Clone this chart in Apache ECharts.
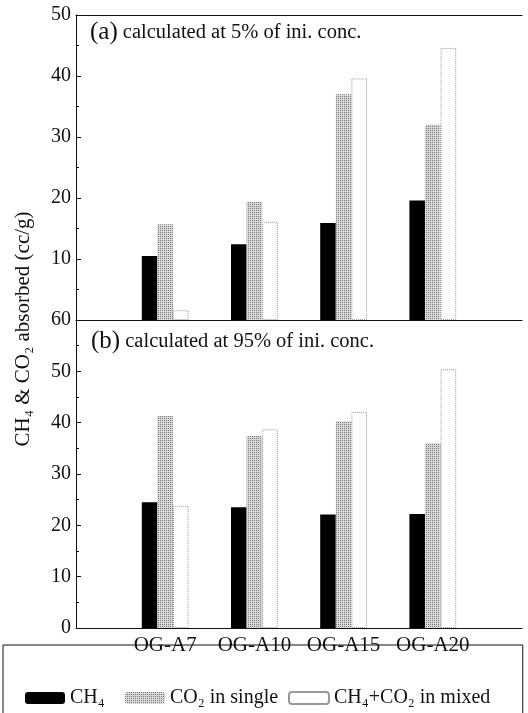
<!DOCTYPE html>
<html>
<head>
<meta charset="utf-8">
<script src="https://cdn.jsdelivr.net/npm/echarts@6/dist/echarts.min.js"></script>
<style>
  html, body { margin: 0; padding: 0; background: #fff; }
  #chart { width: 528px; height: 713px; }
</style>
</head>
<body>
<div id="chart"></div>
<script>
// 样品
const categories = ['OG-A7', 'OG-A10', 'OG-A15', 'OG-A20']
// (a) 5% of ini. conc.
const ch4A = [10.5, 12.4, 15.9, 19.6]
const co2SingleA = [15.7, 19.4, 37.0, 32.0]
const mixedA = [1.6, 16.1, 39.6, 44.6]
// (b) 95% of ini. conc.
const ch4B = [24.5, 23.5, 22.1, 22.2]
const co2SingleB = [41.3, 37.4, 40.3, 36.0]
const mixedB = [23.8, 38.7, 42.1, 50.4]
// y轴刻度 [min, max, interval]
const topTicks = [0, 50, 10]
const bottomTicks = [0, 60, 10]

const names = ['CH₄', 'CO₂ in single', 'CH₄+CO₂ in mixed']
const FONT = 'Liberation Serif'
const INK = '#111'

// 两端空出一格，方便和原图对齐
const axisCats = [''].concat(categories, [''])
const pad = arr => [null].concat(arr, [null])

const barStyles = [
    { color: '#000' },
    {
        color: '#d8d8d8',
        decal: {
            symbol: 'rect',
            symbolSize: 1,
            color: 'rgba(60,60,60,0.6)',
            dashArrayX: [1, 1],
            dashArrayY: [1, 1],
            rotation: 0
        }
    },
    { color: '#fff', borderColor: '#999', borderWidth: 1, borderType: 'dotted' }
]

const makeSeries = (values, idx, grid) => ({
    name: names[idx],
    type: 'bar',
    xAxisIndex: grid === 0 ? 0 : 2,
    yAxisIndex: grid,
    data: pad(values),
    barWidth: 15.6,
    barGap: '0%',
    itemStyle: barStyles[idx],
    emphasis: { disabled: true },
    animation: false
})

const yAxisBase = (gridIndex, ticks, formatter) => ({
    type: 'value',
    gridIndex,
    min: ticks[0],
    max: ticks[1],
    interval: ticks[2],
    axisLine: { show: true, lineStyle: { color: INK, width: 1 } },
    axisTick: { show: true, inside: true, length: 5, lineStyle: { color: INK } },
    minorTick: { show: true, splitNumber: 2, length: 3, lineStyle: { color: INK } },
    splitLine: { show: false },
    axisLabel: {
        fontFamily: FONT, fontSize: 20, color: INK, margin: 5,
        formatter
    }
})

const xAxisBase = (gridIndex, position, showLabel) => ({
    type: 'category',
    gridIndex,
    position,
    data: axisCats,
    boundaryGap: false,
    axisLine: { show: true, onZero: false, lineStyle: { color: INK, width: 1 } },
    axisTick: { show: false },
    axisLabel: {
        show: showLabel, fontFamily: FONT, fontSize: 21, color: INK, margin: 7,
        interval: 0
    },
    splitLine: { show: false }
})

const titleStyle = {
    fontFamily: FONT, fontSize: 20.5, fontWeight: 'normal', color: INK,
    rich: { p: { fontFamily: FONT, fontSize: 25, color: INK } }
}

// 图例：三个独立的图例，第一个带边框并撑满整行
const legendLefts = [3, 125, 288]
const makeLegend = (i) => ({
    left: legendLefts[i],
    top: i === 0 ? 645 : 688,
    padding: i === 0 ? [43, 418, 40, 22] : 0,
    borderColor: INK,
    borderWidth: i === 0 ? 1 : 0,
    itemWidth: 40,
    itemHeight: 12,
    selectedMode: false,
    data: [names[i]],
    textStyle: { fontFamily: FONT, fontSize: 20, color: INK }
})

const option = {
    backgroundColor: '#fff',
    animation: false,
    title: [
        { text: '{p|(a)} calculated at 5% of ini. conc.', left: 90, top: 20, padding: 0, textStyle: titleStyle },
        { text: '{p|(b)} calculated at 95% of ini. conc.', left: 91, top: 329, padding: 0, textStyle: titleStyle }
    ],
    grid: [
        { left: 76, right: 6, top: 15, height: 305 },
        { left: 76, right: 6, top: 320, height: 308 }
    ],
    xAxis: [
        xAxisBase(0, 'bottom', false),
        xAxisBase(0, 'top', false),
        xAxisBase(1, 'bottom', true)
    ],
    yAxis: [
        yAxisBase(0, topTicks, v => (v === 0 ? '' : v)),
        yAxisBase(1, bottomTicks)
    ],
    legend: [makeLegend(0), makeLegend(1), makeLegend(2)],
    graphic: [{
        type: 'text',
        x: 23,
        y: 329,
        rotation: Math.PI / 2,
        style: {
            text: 'CH₄ & CO₂ absorbed (cc/g)',
            font: '21px "Liberation Serif"',
            fill: INK,
            textAlign: 'center',
            textVerticalAlign: 'middle'
        }
    }],
    series: [
        makeSeries(ch4A, 0, 0),
        makeSeries(co2SingleA, 1, 0),
        makeSeries(mixedA, 2, 0),
        makeSeries(ch4B, 0, 1),
        makeSeries(co2SingleB, 1, 1),
        makeSeries(mixedB, 2, 1)
    ]
}

const chart = echarts.init(document.getElementById('chart'))
chart.setOption(option)
</script>
</body>
</html>
